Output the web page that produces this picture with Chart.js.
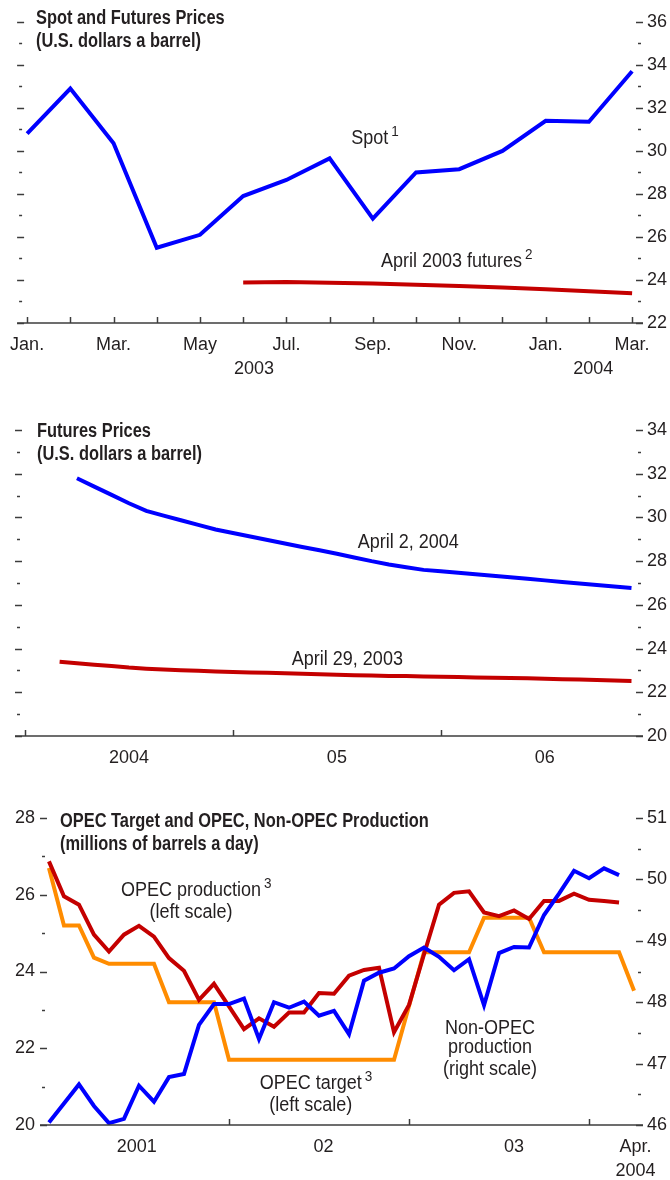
<!DOCTYPE html>
<html>
<head>
<meta charset="utf-8">
<script src="https://cdn.jsdelivr.net/npm/chart.js@4.4.1/dist/chart.umd.min.js"></script>
<style>
body { margin: 0; background: #fff; }
#wrap { position: relative; width: 670px; height: 1180px; }
canvas { position: absolute; left: 0; }
</style>
</head>
<body>
<div id="wrap">
<canvas id="spot" width="670" height="390" style="top:0px"></canvas>
<canvas id="futures" width="670" height="400" style="top:390px"></canvas>
<canvas id="opec" width="670" height="390" style="top:790px"></canvas>
</div>
<script>
// panel 1: monthly, Jan 2003 - Mar 2004
var spotMonths = ['Jan.','Feb.','Mar.','Apr.','May','Jun.','Jul.','Aug.','Sep.','Oct.','Nov.','Dec.','Jan.','Feb.','Mar.']
var spotPrice = [30.8, 32.9, 30.35, 25.5, 26.1, 27.9, 28.65, 29.65, 26.85, 29.0, 29.15, 30.0, 31.4, 31.35, 33.7]
var april2003Futures = [null, null, null, null, null, 23.88, 23.9, 23.87, 23.84, 23.78, 23.72, 23.65, 23.57, 23.48, 23.38]
var spotTickIdx = [0, 2, 4, 6, 8, 10, 12, 14]
var spotYears = ['2003', '2004']

// panel 2: futures curve by delivery month, Jan 2004 - Dec 2006
var curveApr2004 = [null, null, null, 31.79, 31.41, 31.03, 30.65, 30.3, 30.08, 29.87, 29.66, 29.45,
    29.29, 29.13, 28.97, 28.81, 28.65, 28.5, 28.34, 28.17, 28.0, 27.85, 27.72, 27.6,
    27.54, 27.47, 27.4, 27.33, 27.26, 27.19, 27.12, 27.05, 26.98, 26.91, 26.84, 26.77]
var curveApr2003 = [null, null, 23.4, 23.33, 23.26, 23.2, 23.13, 23.08, 23.04, 23.01, 22.98, 22.95,
    22.93, 22.91, 22.89, 22.87, 22.85, 22.83, 22.8, 22.78, 22.77, 22.75, 22.74, 22.72,
    22.71, 22.7, 22.68, 22.67, 22.65, 22.64, 22.62, 22.6, 22.58, 22.56, 22.54, 22.52]
var curveYears = ['2004', '05', '06']

// panel 3: monthly, Jan 2001 - Apr 2004
var opecProduction = [26.87, 25.96, 25.74, 24.96, 24.52, 24.96, 25.19, 24.91, 24.35, 24.02, 23.26, 23.68,
    23.09, 22.5, 22.78, 22.56, 22.93, 22.93, 23.44, 23.42, 23.89, 24.04, 24.1, 22.42,
    23.13, 24.45, 25.74, 26.05, 26.09, 25.54, 25.44, 25.59, 25.37, 25.84, 25.84, 26.03,
    25.87, 25.84, 25.8, null]
var opecTarget = [26.7, 25.2, 25.2, 24.36, 24.2, 24.2, 24.2, 24.2, 23.2, 23.2, 23.2, 23.2,
    21.7, 21.7, 21.7, 21.7, 21.7, 21.7, 21.7, 21.7, 21.7, 21.7, 21.7, 21.7,
    23.1, 24.5, 24.5, 24.5, 24.5, 25.4, 25.4, 25.4, 25.4, 24.5, 24.5, 24.5,
    24.5, 24.5, 24.5, 23.5]
var nonOpecProduction = [46.04, 46.35, 46.66, 46.31, 46.03, 46.1, 46.64, 46.38, 46.78, 46.83, 47.63, 47.97,
    47.97, 48.06, 47.4, 48.0, 47.91, 48.01, 47.78, 47.86, 47.48, 48.35, 48.48, 48.55,
    48.75, 48.89, 48.74, 48.52, 48.7, 47.95, 48.8, 48.9, 48.89, 49.42, 49.77, 50.14,
    50.02, 50.18, 50.07, null]
var opecYears = ['2001', '02', '03', ['Apr.', '2004']]

var FONT = '"Liberation Sans", Arial, sans-serif'
var TEXT = '#231f20'
var AXIS = '#3c3c3c'
var BLUE = '#0000ff'
var RED = '#c40000'
var ORANGE = '#ff8c00'

function toPoints(values){
    var out = []
    for (var i = 0; i < values.length; i++) {
        if (values[i] !== null) out.push({x: i, y: values[i]})
    }
    return out
}

function lineSet(values, color, order, axis){
    return {
        data: toPoints(values),
        borderColor: color,
        borderWidth: 4,
        pointRadius: 0,
        fill: false,
        tension: 0,
        order: order,
        yAxisID: axis || 'y'
    }
}

function xScale(min, max, pos, labels, height){
    return {
        type: 'linear', min: min, max: max,
        grid: {display: false, drawTicks: false},
        border: {display: false},
        afterBuildTicks: function(s){ s.ticks = pos.map(function(v){ return {value: v} }) },
        afterFit: function(s){ s.height = height },
        ticks: {
            autoSkip: false, maxRotation: 0, minRotation: 0, padding: 10, color: TEXT,
            font: {family: FONT, size: 18, lineHeight: 1.33},
            callback: function(v, i){ return labels[i] }
        }
    }
}

function yScale(position, min, max, step, every, width, padding){
    return {
        type: 'linear', position: position, min: min, max: max,
        grid: {display: false, drawTicks: false},
        border: {display: false},
        afterFit: function(s){ s.width = width },
        ticks: {
            autoSkip: false, stepSize: step, padding: padding, color: TEXT,
            font: {family: FONT, size: 18},
            callback: function(v){
                var r = v / every
                if (Math.abs(r - Math.round(r)) > 1e-6) return ''
                return String(v)
            }
        }
    }
}

function squeezeText(ctx, text, x, y, sx){
    ctx.save()
    ctx.translate(x, y)
    ctx.scale(sx, 1)
    ctx.fillText(text, 0, 0)
    ctx.restore()
    return ctx.measureText(text).width * sx
}

var decor = {
    id: 'decor',
    afterDraw: function(chart, args, opts){
        var ctx = chart.ctx
        var a = chart.chartArea
        var xs = chart.scales.x
        ctx.save()
        ctx.strokeStyle = AXIS
        ctx.lineWidth = 1.5
        ctx.beginPath()
        ctx.moveTo(a.left - 7, a.bottom)
        ctx.lineTo(a.right + 7, a.bottom)
        ctx.stroke()
        opts.xMarks.forEach(function(v){
            var px = Math.round(xs.getPixelForValue(v)) + 0.5
            ctx.beginPath()
            ctx.moveTo(px, a.bottom)
            ctx.lineTo(px, a.bottom - 6)
            ctx.stroke()
        })
        opts.yMarks.forEach(function(m){
            var sc = chart.scales[m.scale]
            sc.ticks.forEach(function(t){
                var py = Math.round(sc.getPixelForValue(t.value)) + 0.5
                var major = t.label !== ''
                m.sides.forEach(function(side){
                    var x0 = side === 'left' ? a.left : a.right
                    var d = side === 'left' ? -1 : 1
                    ctx.beginPath()
                    if (major) {
                        ctx.moveTo(x0, py)
                        ctx.lineTo(x0 + d * 7, py)
                    } else {
                        ctx.moveTo(x0 + d * 2, py)
                        ctx.lineTo(x0 + d * 5, py)
                    }
                    ctx.stroke()
                })
            })
        })
        ctx.fillStyle = TEXT
        ctx.textBaseline = 'alphabetic'
        ctx.font = 'bold 20px ' + FONT
        ctx.textAlign = 'left'
        opts.title.lines.forEach(function(line, i){
            squeezeText(ctx, line, opts.title.x, opts.title.base[i], 0.82)
        })
        opts.notes.forEach(function(n){
            var sc = chart.scales[n.scale || 'y']
            var px = xs.getPixelForValue(n.x)
            var py = sc.getPixelForValue(n.y)
            ctx.font = '20px ' + FONT
            ctx.textAlign = n.align || 'left'
            var w = squeezeText(ctx, n.text, px, py, 0.9)
            if (n.sup) {
                var end = n.align === 'center' ? px + w / 2 : px + w
                ctx.font = '15px ' + FONT
                ctx.textAlign = 'left'
                squeezeText(ctx, n.sup, end + 3, py - 8, 0.9)
            }
        })
        ctx.restore()
    }
}

function makeChart(id, datasets, scales, padding, decorOpts){
    return new Chart(document.getElementById(id), {
        type: 'line',
        data: {datasets: datasets},
        options: {
            responsive: false,
            animation: false,
            devicePixelRatio: 1,
            events: [],
            layout: {padding: padding, autoPadding: false},
            scales: scales,
            plugins: {legend: {display: false}, tooltip: {enabled: false}, decor: decorOpts}
        },
        plugins: [decor]
    })
}

// top: spot and futures prices
var spotLabels = spotTickIdx.map(function(i){ return spotMonths[i] })
var spotPos = spotTickIdx.slice()
spotPos.splice(3, 0, 5.25)
spotLabels.splice(3, 0, ['', spotYears[0]])
spotPos.splice(8, 0, 13.1)
spotLabels.splice(8, 0, ['', spotYears[1]])

makeChart('spot',
    [lineSet(spotPrice, BLUE, 0), lineSet(april2003Futures, RED, 1)],
    {
        x: xScale(-0.07, 14.09, spotPos, spotLabels, 67),
        y: yScale('right', 22, 36, 1, 2, 34, 11)
    },
    {left: 22, top: 16, right: 0, bottom: 0},
    {
        xMarks: spotMonths.map(function(m, i){ return i }),
        yMarks: [{scale: 'y', sides: ['left', 'right']}],
        title: {x: 36, base: [24, 47], lines: ['Spot and Futures Prices', '(U.S. dollars a barrel)']},
        notes: [
            {x: 7.5, y: 30.3, text: 'Spot', sup: '1'},
            {x: 8.19, y: 24.6, text: 'April 2003 futures', sup: '2'}
        ]
    })

// middle: futures curves
makeChart('futures',
    [lineSet(curveApr2004, BLUE, 0), lineSet(curveApr2003, RED, 1)],
    {
        x: xScale(-0.17, 35.26, [6, 18, 30], curveYears, 54),
        y: yScale('right', 20, 34, 1, 2, 34, 11)
    },
    {left: 22, top: 40, right: 0, bottom: 0},
    {
        xMarks: [0, 12, 24],
        yMarks: [{scale: 'y', sides: ['left', 'right']}],
        title: {x: 37, base: [47, 70], lines: ['Futures Prices', '(U.S. dollars a barrel)']},
        notes: [
            {x: 19.2, y: 28.59, text: 'April 2, 2004'},
            {x: 15.4, y: 23.25, text: 'April 29, 2003'}
        ]
    })

// bottom: OPEC target and production
makeChart('opec',
    [
        lineSet(nonOpecProduction, BLUE, 0, 'y2'),
        lineSet(opecProduction, RED, 1),
        lineSet(opecTarget, ORANGE, 2)
    ],
    {
        x: xScale(-0.13, 39.13, [5.85, 18.3, 31, 39.1], opecYears, 55),
        y: yScale('left', 20, 28, 1, 2, 47, 12),
        y2: yScale('right', 46, 51, 0.5, 1, 34, 11)
    },
    {left: 0, top: 28, right: 0, bottom: 0},
    {
        xMarks: [12, 24, 36],
        yMarks: [{scale: 'y', sides: ['left']}, {scale: 'y2', sides: ['right']}],
        title: {x: 60, base: [37, 60], lines: ['OPEC Target and OPEC, Non-OPEC Production', '(millions of barrels a day)']},
        notes: [
            {x: 9.47, y: 25.97, text: 'OPEC production', sup: '3', align: 'center'},
            {x: 9.47, y: 25.39, text: '(left scale)', align: 'center'},
            {x: 17.45, y: 20.93, text: 'OPEC target', sup: '3', align: 'center'},
            {x: 17.45, y: 20.37, text: '(left scale)', align: 'center'},
            {x: 29.4, y: 47.49, scale: 'y2', text: 'Non-OPEC', align: 'center'},
            {x: 29.4, y: 47.17, scale: 'y2', text: 'production', align: 'center'},
            {x: 29.4, y: 46.81, scale: 'y2', text: '(right scale)', align: 'center'}
        ]
    })
</script>
</body>
</html>
